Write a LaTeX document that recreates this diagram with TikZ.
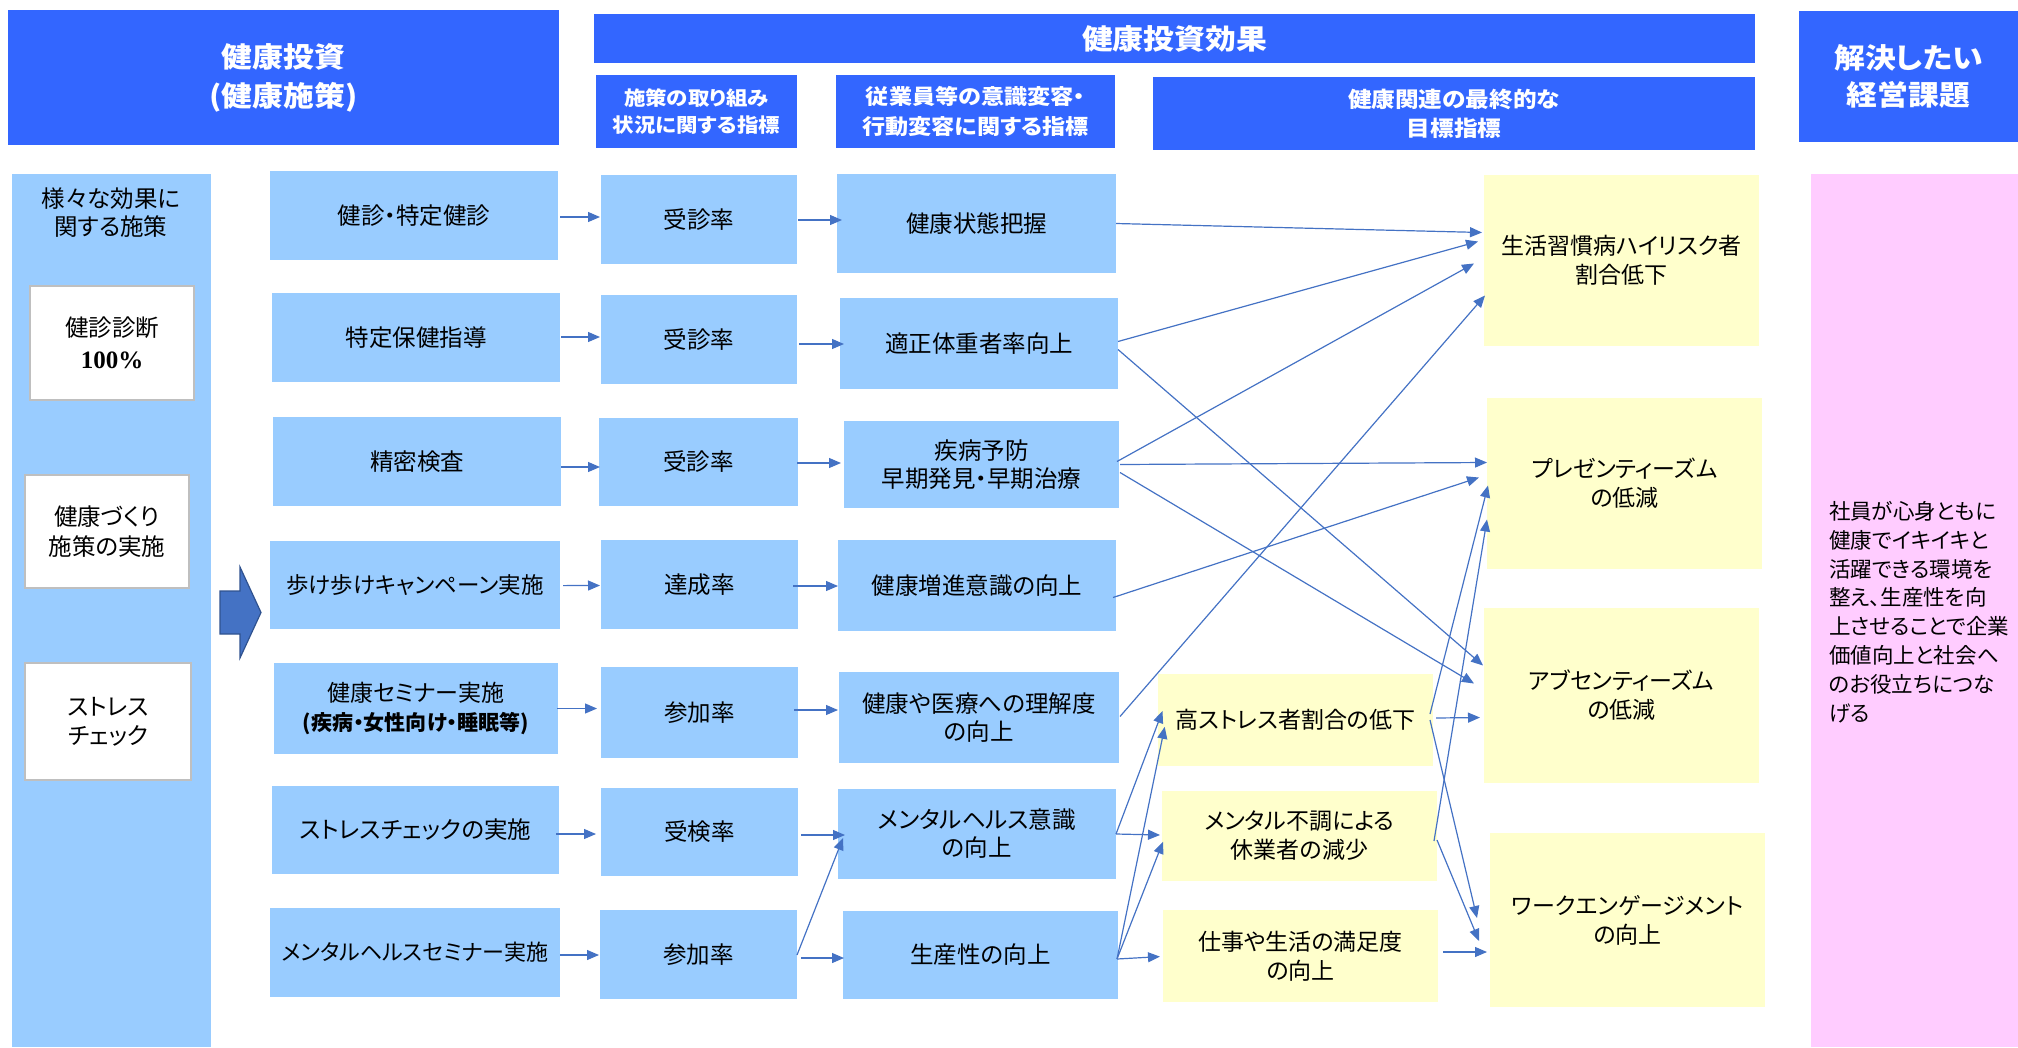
\documentclass[tikz,border=0pt]{standalone}
\usepackage{fontspec}
\setmainfont{Noto Sans CJK JP}[RawFeature=+palt]
\newfontfamily\hdfont{Noto Sans CJK JP}[FakeStretch=1.1,RawFeature=+palt]
\newfontfamily\numfont{Liberation Serif}
\usetikzlibrary{arrows.meta,calc}
\definecolor{hdblue}{HTML}{3366FF}
\definecolor{lblue}{HTML}{99CCFF}
\definecolor{yel}{HTML}{FFFFCC}
\definecolor{pnk}{HTML}{FFCCFF}
\definecolor{arrc}{HTML}{4472C4}
\definecolor{arrd}{HTML}{2F528F}
\definecolor{gbord}{HTML}{BFBFBF}
\newcommand\fs[2]{\fontsize{#1}{#2}\selectfont}
\newcommand\bx[7]{\node[#2, minimum width={#5-#3}, minimum height={#6-#4}] (#1) at ({(#3+#5)/2},{(#4+#6)/2}) {#7};}
\begin{document}
\begin{tikzpicture}[x=1pt,y=-1pt,
  base/.style={inner sep=0pt, outer sep=0pt, align=center, text=black},
  hd/.style={base, fill=hdblue, text=white, font=\hdfont\bfseries\fs{28}{39}},
  sub/.style={base, fill=hdblue, text=white, font=\hdfont\bfseries\fs{21}{29}},
  lb/.style={base, fill=lblue, font=\fs{23.5}{28}},
  yb/.style={base, fill=yel, font=\fs{23}{29}},
  wb/.style={base, fill=white, draw=gbord, line width=1.5pt, font=\fs{23.5}{30}},
  arr/.style={draw=arrc, line width=1.2pt, -{Triangle[length=12pt,width=10pt]}},
  blockarrow/.style={fill=arrc, draw=arrd, line width=1.2pt, line join=miter}
]
\useasboundingbox (0,0) rectangle (2018,1047);
% headers
\bx{H0}{hd}{8}{10}{559}{145}{健康投資\\(健康施策)}
\bx{H1}{hd}{594}{14}{1755}{63}{健康投資効果}
\bx{H2}{sub, font=\hdfont\bfseries\fs{19.5}{27}}{596}{75}{797}{148}{施策の取り組み\\状況に関する指標}
\bx{H3}{sub, font=\hdfont\bfseries\fs{21}{30}}{836}{75}{1115}{148}{従業員等の意識変容・\\行動変容に関する指標}
\bx{H4}{sub, font=\hdfont\bfseries\fs{21.5}{29}}{1153}{77}{1755}{150}{健康関連の最終的な\\目標指標}
\bx{H5}{hd, font=\hdfont\bfseries\fs{28}{37}}{1799}{11}{2018}{142}{解決したい\\経営課題}
% left column
\bx{L}{base, fill=lblue}{11.5}{174}{210.5}{1047}{}
\node[base, font=\fs{23.5}{28}] (Ltxt) at (111,213) {様々な効果に\\関する施策};
\bx{W1}{wb, font=\fs{23.5}{32}}{30}{286}{194}{400}{健診診断\\{\numfont\bfseries\fontsize{25}{32}\selectfont 100\%}}
\bx{W2}{wb}{25}{475}{189}{588}{健康づくり\\施策の実施}
\bx{W3}{wb, font=\fs{23.5}{29}}{25}{663}{191}{780}{ストレス\\チェック}
\draw[blockarrow] (220,591) -- (240,591) -- (240,567) -- (261,612.5) -- (240,658) -- (240,634) -- (220,634) -- cycle;
% column A
\bx{A1}{lb}{270}{171}{558}{260}{健診・特定健診}
\bx{A2}{lb}{272}{293}{560}{382}{特定保健指導}
\bx{A3}{lb}{273}{417}{561}{506}{精密検査}
\bx{A4}{lb, font=\fs{22.5}{28}}{270}{541}{560}{629}{歩け歩けキャンペーン実施}
\bx{A5}{lb, font=\fs{23}{29}}{274}{663}{558}{754}{健康セミナー実施\\{\bfseries\fontsize{21}{29}\selectfont (疾病・女性向け・睡眠等)}}
\bx{A6}{lb}{272}{786}{559}{874}{ストレスチェックの実施}
\bx{A7}{lb, font=\fs{22}{28}}{270}{908}{560}{997}{メンタルヘルスセミナー実施}
% column B
\bx{B1}{lb}{601}{175}{797}{264}{受診率}
\bx{B2}{lb}{601}{295}{797}{384}{受診率}
\bx{B3}{lb}{599}{418}{798}{506}{受診率}
\bx{B4}{lb}{601}{540}{798}{629}{達成率}
\bx{B5}{lb}{601}{667}{798}{758}{参加率}
\bx{B6}{lb}{601}{788}{798}{876}{受検率}
\bx{B7}{lb}{600}{910}{797}{999}{参加率}
% column C
\bx{C1}{lb}{837}{174}{1116}{273}{健康状態把握}
\bx{C2}{lb}{840}{298}{1118}{389}{適正体重者率向上}
\bx{C3}{lb}{844}{421}{1119}{508}{疾病予防\\早期発見・早期治療}
\bx{C4}{lb}{838}{540}{1116}{631}{健康増進意識の向上}
\bx{C5}{lb}{839}{672}{1119}{763}{健康や医療への理解度\\の向上}
\bx{C6}{lb}{838}{789}{1116}{879}{メンタルヘルス意識\\の向上}
\bx{C7}{lb}{843}{911}{1118}{999}{生産性の向上}
% column D
\bx{D1}{yb}{1158}{674}{1433}{766}{高ストレス者割合の低下}
\bx{D2}{yb}{1162}{791}{1437}{881}{メンタル不調による\\休業者の減少}
\bx{D3}{yb}{1163}{910}{1438}{1002}{仕事や生活の満足度\\の向上}
% column E
\bx{E1}{yb}{1484}{175}{1759}{346}{生活習慣病ハイリスク者\\割合低下}
\bx{E2}{yb}{1487}{398}{1762}{569}{プレゼンティーズム\\の低減}
\bx{E3}{yb}{1484}{608}{1759}{783}{アブセンティーズム\\の低減}
\bx{E4}{yb}{1490}{833}{1765}{1007}{ワークエンゲージメント\\の向上}
% right column
\bx{P}{base, fill=pnk}{1811}{174}{2018}{1047}{}
\node[base, align=left, anchor=west, font=\fs{21.5}{28.8}] (Ptxt) at (1829,612) {社員が心身ともに\\健康でイキイキと\\活躍できる環境を\\整え、生産性を向\\上させることで企業\\価値向上と社会へ\\のお役立ちにつな\\げる};
% arrows A -> B
\draw[arr] ($(A1.east)+(2,1.5)$) -- ($(B1.west)+(-1,-2.5)$);
\draw[arr] ($(A2.east)+(1,-0.5)$) -- ($(B2.west)+(-1,-2.5)$);
\draw[arr] ($(A3.east)+(0,5.5)$) -- ($(B3.west)+(1,5)$);
\draw[arr] ($(A4.east)+(3,0.6)$) -- ($(B4.west)+(-1,1)$);
\draw[arr] ($(A5.east)+(-1,0)$) -- ($(B5.west)+(-4,-4)$);
\draw[arr] ($(A6.east)+(-3,4)$) -- ($(B6.west)+(-5,2)$);
\draw[arr] ($(A7.east)+(0,2.5)$) -- ($(B7.west)+(-1,0.5)$);
% arrows B -> C
\draw[arr] ($(B1.east)+(1,0.5)$) -- ($(C1.west)+(5,-3.5)$);
\draw[arr] ($(B2.east)+(2,4.5)$) -- ($(C2.west)+(4,0.5)$);
\draw[arr] ($(B3.east)+(-1,1)$) -- ($(C3.west)+(-3,-1.5)$);
\draw[arr] ($(B4.east)+(-5,1.5)$) -- ($(C4.west)+(0,0.5)$);
\draw[arr] ($(B5.east)+(-4,-2.5)$) -- ($(C5.west)+(-1,-7.5)$);
\draw[arr] ($(B6.east)+(3,3)$) -- ($(C6.west)+(7,1)$);
\draw[arr] ($(B7.east)+(0,0.5)$) -- ($(C6.west)+(5,4)$);
\draw[arr] ($(B7.east)+(4,3.5)$) -- ($(C7.west)+(1,3)$);
% arrows C -> E
\draw[arr] ($(C1.east)+(0,0)$) -- ($(E1.west)+(-2,-28)$);
\draw[arr] ($(C2.east)+(0,-2)$) -- ($(E1.west)+(-6,-19)$);
\draw[arr] ($(C2.east)+(0,6)$) -- ($(E3.west)+(-1,-30)$);
\draw[arr] ($(C3.east)+(-2,-3)$) -- ($(E1.west)+(-10,3)$);
\draw[arr] ($(C3.east)+(1,0)$) -- ($(E2.west)+(0,-21)$);
\draw[arr] ($(C3.east)+(1,8)$) -- ($(E3.west)+(-10,-12)$);
\draw[arr] ($(C4.east)+(-3,12)$) -- ($(E2.west)+(-8,-6)$);
\draw[arr] ($(C5.east)+(1,-1)$) -- ($(E1.west)+(1,35)$);
% arrows C -> D
\draw[arr] ($(C6.east)+(0,0)$) -- ($(D1.west)+(4.5,-9)$);
\draw[arr] ($(C6.east)+(0,0)$) -- ($(D2.west)+(-2,-1)$);
\draw[arr] ($(C7.east)+(-1,4)$) -- ($(D1.west)+(6.7,6.8)$);
\draw[arr] ($(C7.east)+(-1,4)$) -- ($(D2.west)+(1,5.7)$);
\draw[arr] ($(C7.east)+(-1,4)$) -- ($(D3.west)+(-3,0.6)$);
% arrows D -> E
\draw[arr] ($(D1.east)+(-3,-6)$) -- ($(E2.west)+(1,2)$);
\draw[arr] ($(D1.east)+(3,-2)$) -- ($(E3.west)+(-4,22)$);
\draw[arr] ($(D1.east)+(-3,0)$) -- ($(E4.west)+(-13,-2)$);
\draw[arr] ($(D2.east)+(-3,5)$) -- ($(E2.west)+(0,36)$);
\draw[arr] ($(D2.east)+(0,4)$) -- ($(E4.west)+(-11,21)$);
\draw[arr] ($(D3.east)+(5,-4)$) -- ($(E4.west)+(-3,32)$);
\end{tikzpicture}
\end{document}
